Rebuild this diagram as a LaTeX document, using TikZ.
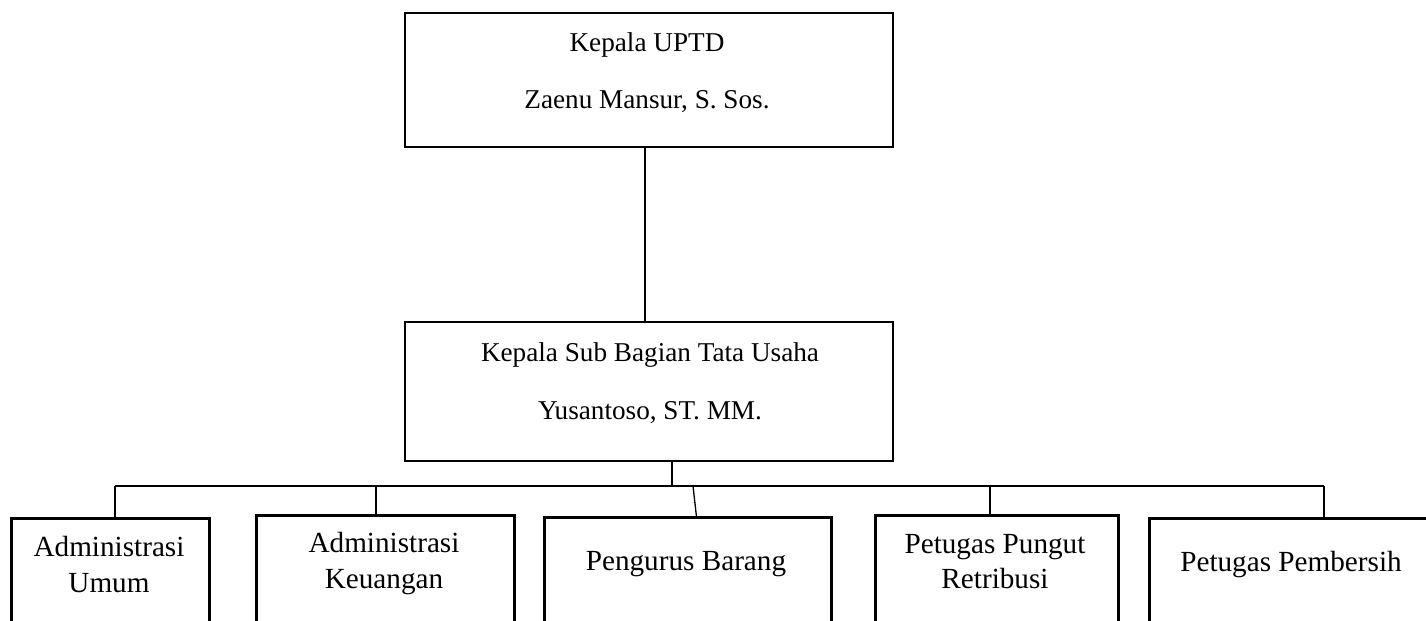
\documentclass[tikz,border=0pt]{standalone}
\usepackage{fontspec}
\setmainfont{Liberation Serif}
\usetikzlibrary{positioning}
\begin{document}
\begin{tikzpicture}[x=0.5pt,y=-0.5pt]
\tikzstyle{head box}=[rectangle,draw,line width=1.4pt,minimum width=244pt,inner sep=0]
\tikzstyle{staff box}=[rectangle,draw,line width=1.4pt,anchor=north west,minimum height=70pt,inner sep=0]
\tikzset{
	box text/.style={anchor=base,inner sep=0,font=\fontsize{13.6}{16}\selectfont},
	staff text/.style={box text,font=\fontsize{14.6}{17}\selectfont},
	link/.style={line width=0.65pt}
}
\path[use as bounding box,clip] (0,0) rectangle (1426,621);
% the two heads
\node[head box,minimum height=67pt] (uptd) at (649,80) {};
\node[box text] (uptdA) at (647,52) {Kepala UPTD};
\node[box text] (uptdB) at (647,108) {Zaenu Mansur, S. Sos.};
\node[head box,minimum height=69.5pt] (subag) at (649,391.5) {};
\node[box text] (subagA) at (650,361) {Kepala Sub Bagian Tata Usaha};
\node[box text] (subagB) at (650,419) {Yusantoso, ST. MM.};
% staff
\node[staff box,minimum width=99pt] (admum) at (10,517) {};
\node[staff text] (admumA) at (109,556) {Administrasi};
\node[staff text] (admumB) at (109,592) {Umum};
\node[staff box,minimum width=129pt] (adkeu) at (255,514) {};
\node[staff text] (adkeuA) at (384,552) {Administrasi};
\node[staff text] (adkeuB) at (384,588) {Keuangan};
\node[staff box,minimum width=143.5pt] (pengurus) at (543,516) {};
\node[staff text] (pengurusA) at (686,570) {Pengurus Barang};
\node[staff box,minimum width=121.5pt] (pungut) at (874,514) {};
\node[staff text] (pungutA) at (995,553) {Petugas Pungut};
\node[staff text] (pungutB) at (995,588) {Retribusi};
\node[staff box,minimum width=143pt] (bersih) at (1148,517) {};
\node[staff text] (bersihA) at (1291,571) {Petugas Pembersih};
% lines
\coordinate (hub) at (672,486);
\coordinate (barL) at (115,486);
\coordinate (barR) at (1324,486);
\coordinate (d2) at (376,486);
\coordinate (d3) at (693,486);
\coordinate (d4) at (990,486);
\draw[link] ([xshift=-2pt]uptd.south) -- ([xshift=-2pt]subag.north);
\draw[link] (hub |- subag.south) -- (hub);
\draw[link] (barL) -- (barR);
\draw[link] (barL) -- (barL |- admum.north);
\draw[link] (d2) -- (d2 |- adkeu.north);
\draw[link] (d3) -- ([xshift=4.25pt]pengurus.north);
\draw[link] (d4) -- (d4 |- pungut.north);
\draw[link] (barR) -- (barR |- bersih.north);
\end{tikzpicture}
\end{document}
